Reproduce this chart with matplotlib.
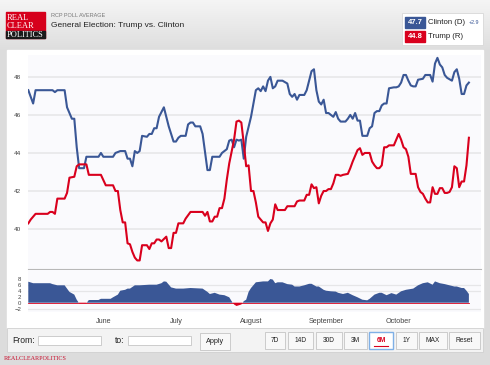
import numpy as np
import pandas as pd
import matplotlib
matplotlib.use("Agg")
import matplotlib.pyplot as plt
from matplotlib.patches import Rectangle

# 数据：自 2016-05-01 起的天数
start = pd.Timestamp("2016-05-01")

clinton_days = [0, 2, 3, 10, 11, 12, 15, 16, 18, 19, 20, 21, 23, 24, 29, 30, 31, 35, 36, 38,
                40, 41, 42, 43, 44, 45, 46, 47, 49, 50, 51, 52, 53, 54, 56, 58, 60, 61, 62, 63,
                65, 66, 67, 68, 69, 71, 72, 74, 75, 76, 79, 80, 82, 83, 84, 85, 86, 87, 88, 89,
                90, 92, 94, 95, 96, 97, 98, 99, 100, 101, 102, 103, 105, 107, 108, 109, 110, 111, 112, 114,
                115, 116, 117, 118, 119, 120, 121, 122, 123, 124, 125, 126, 127, 128, 129, 131, 132, 133, 134, 135,
                136, 137, 138, 140, 141, 142, 143, 144, 145, 146, 147, 148, 149, 151, 152, 153, 154, 155, 156, 157,
                158, 159, 160, 161, 163, 164, 166, 167, 168, 169, 170, 171, 172, 173, 175, 176, 177, 178, 179, 180,
                181, 182]
clinton = [47.3, 46.6, 47.3, 47.3, 47.2, 47.3, 47.3, 46.4, 45.8, 45.8, 44.3, 43.2, 43.2, 43.8, 43.8, 44.0, 43.8, 43.8, 44.0, 44.1,
           44.1, 43.7, 43.7, 43.3, 44.1, 44.0, 44.1, 44.9, 44.85, 45.0, 45.0, 45.3, 45.3, 45.9, 46.4, 45.4, 44.6, 44.6, 44.8, 44.9,
           44.9, 45.5, 45.6, 45.6, 45.4, 45.4, 45.0, 43.1, 43.1, 43.8, 43.8, 44.0, 44.2, 44.65, 44.7, 44.3, 44.7, 44.65, 44.7, 43.7,
           44.85, 45.9, 47.3, 47.4, 47.25, 47.5, 47.25, 47.8, 48.0, 47.4, 47.5, 47.8, 47.8, 47.65, 47.1, 46.95, 47.1, 46.8, 47.05, 47.05,
           47.3, 47.8, 48.3, 48.4, 47.3, 46.7, 46.55, 46.8, 46.1, 46.1, 46.0, 45.9, 46.15, 45.8, 45.65, 45.65, 45.8, 46.0, 45.8, 46.1,
           45.7, 45.7, 44.9, 44.9, 45.3, 45.4, 46.1, 46.2, 46.2, 46.5, 46.6, 46.6, 47.4, 47.45, 47.45, 47.5, 47.7, 48.1, 48.1, 47.8,
           47.55, 47.5, 47.5, 47.85, 47.9, 48.1, 48.1, 47.75, 48.7, 49.0, 48.65, 48.5, 48.1, 47.95, 47.8, 48.25, 48.4, 47.9, 47.1, 47.1,
           47.55, 47.7]

trump_days = [0, 1, 3, 8, 9, 10, 11, 12, 15, 16, 17, 19, 20, 21, 24, 25, 30, 32, 35, 36,
              37, 38, 39, 40, 41, 42, 43, 44, 45, 46, 47, 49, 50, 51, 52, 53, 54, 55, 57, 58,
              59, 60, 61, 62, 64, 65, 67, 72, 73, 74, 75, 76, 77, 78, 79, 80, 81, 82, 83, 85,
              86, 87, 88, 89, 90, 91, 92, 93, 94, 95, 96, 97, 98, 99, 100, 101, 102, 103, 106, 107,
              110, 111, 112, 114, 115, 116, 117, 118, 119, 120, 121, 122, 123, 124, 125, 126, 127, 128, 129, 130,
              132, 133, 134, 136, 137, 138, 139, 141, 142, 143, 144, 145, 146, 147, 148, 149, 151, 152, 153, 154,
              155, 156, 157, 158, 160, 161, 162, 163, 164, 165, 166, 167, 168, 169, 170, 171, 172, 173, 174, 175,
              176, 177, 178, 179, 180, 181, 182]
trump = [40.3, 40.5, 40.8, 40.8, 40.9, 40.9, 40.8, 41.6, 41.6, 41.9, 42.7, 42.75, 43.3, 43.4, 43.4, 42.85, 42.85, 42.3, 42.3, 42.0,
         42.0, 41.0, 40.35, 40.35, 39.25, 39.2, 38.8, 38.5, 38.35, 38.35, 39.15, 39.15, 38.95, 39.25, 39.25, 39.45, 39.45, 39.35, 39.6, 39.0,
         39.0, 39.8, 39.8, 40.3, 40.3, 40.55, 40.9, 40.9, 40.7, 40.9, 40.4, 40.4, 40.65, 40.65, 41.1, 41.1, 41.6, 42.6, 43.45, 44.7,
         45.65, 45.7, 45.6, 44.5, 43.3, 43.35, 42.0, 42.0, 41.4, 40.65, 40.5, 40.35, 40.35, 39.9, 40.3, 40.5, 41.3, 41.0, 41.0, 41.2,
         41.2, 41.45, 41.5, 41.5, 41.8, 41.8, 42.35, 42.15, 42.2, 41.35, 41.75, 42.0, 42.0, 42.1, 42.1, 42.4, 42.85, 42.85, 42.8, 42.85,
         42.9, 43.2, 43.55, 44.15, 44.25, 43.9, 44.0, 44.0, 43.55, 43.35, 43.2, 43.2, 43.35, 44.3, 44.3, 44.4, 44.4, 44.7, 45.0, 44.7,
         44.3, 44.2, 43.8, 42.9, 42.9, 42.2, 41.95, 41.85, 41.6, 41.4, 41.4, 42.2, 41.85, 41.85, 42.15, 42.15, 41.9, 41.9, 41.95, 42.2,
         43.3, 43.2, 42.2, 42.5, 42.5, 43.35, 44.8]

spread_days = [0, 2, 3, 9, 10, 12, 15, 16, 17, 19, 20, 21, 24, 25, 29, 30, 34, 35, 37, 38,
               40, 41, 42, 44, 46, 50, 53, 55, 56, 57, 59, 61, 64, 67, 72, 74, 75, 77, 79, 81,
               83, 84, 85, 86, 88, 89, 90, 91, 92, 94, 97, 99, 100, 101, 102, 103, 105, 107, 109, 110,
               112, 114, 116, 117, 119, 120, 122, 123, 125, 127, 128, 130, 132, 134, 136, 138, 140, 141, 143, 145,
               146, 148, 150, 152, 154, 156, 159, 161, 163, 165, 167, 168, 170, 172, 174, 176, 177, 179, 180, 181,
               182]
spread = [7.0, 6.5, 6.5, 6.5, 6.2, 5.8, 5.8, 4.7, 3.6, 2.7, 1.0, -0.2, -0.2, 0.9, 0.9, 1.3, 1.3, 1.8, 2.7, 4.0,
          4.3, 4.7, 4.7, 5.8, 5.8, 6.0, 6.0, 6.5, 7.1, 7.0, 5.1, 4.7, 4.7, 4.9, 4.7, 3.6, 2.9, 3.3, 2.7, 2.5,
          1.8, 0.5, -0.6, -1.1, -0.6, 0.5, 1.0, 3.6, 4.9, 6.8, 7.1, 7.1, 7.9, 7.7, 6.5, 6.8, 6.8, 6.2, 6.0, 5.4,
          5.4, 5.8, 6.3, 6.3, 5.4, 5.4, 4.3, 4.0, 3.8, 3.7, 3.3, 2.9, 3.3, 2.5, 1.8, 1.0, 0.8, 1.3, 2.7, 3.3,
          3.3, 2.5, 3.2, 2.7, 3.8, 4.3, 4.7, 5.8, 6.5, 6.8, 6.0, 7.1, 6.5, 6.2, 5.8, 5.4, 5.4, 4.9, 4.9, 4.0,
          2.9]

months = ["June", "July", "August", "September", "October"]
buttons = ["7D", "14D", "30D", "3M", "6M", "1Y", "MAX", "Reset"]

BLUE = "#3a5796"
RED = "#d9001d"
W, H = 490, 365


def to_dates(days):
    return start + pd.to_timedelta(days, unit="D")


def px_axes(fig, left, top, right, bottom):
    # 以像素坐标建立坐标轴
    return fig.add_axes([left / W, 1 - bottom / H, (right - left) / W, (bottom - top) / H])


def draw_chrome(bg):
    # 外框与页头渐变
    bg.add_patch(Rectangle((0, 0), W, H, color="#dcdcdc", zorder=0))
    grad = np.linspace(0.96, 0.87, 50).reshape(-1, 1)
    bg.imshow(np.dstack([grad, grad, grad]), extent=(0, W, 50, 0), aspect="auto", zorder=1)
    bg.add_patch(Rectangle((7, 50), 476, 278, color="white", zorder=2))
    bg.add_patch(Rectangle((7, 328), 476, 24, facecolor="#f3f3f3", edgecolor="#d0d0d0", lw=0.6, zorder=2))

    # 标志
    bg.add_patch(Rectangle((6, 12), 39, 26, color="#d6001c", zorder=3))
    bg.add_patch(Rectangle((6, 30.5), 39, 7.5, color="#1a1a1a", zorder=3))
    for txt, y in [("REAL", 20.2), ("CLEAR", 28.0), ("POLITICS", 36.6)]:
        bg.text(6.5, y, txt, color="white", fontsize=6.0, family="Liberation Serif",
                va="baseline", ha="left", zorder=4)

    bg.text(51, 15.5, "RCP POLL AVERAGE", fontsize=4, color="#777777", va="center", zorder=4)
    bg.text(51, 25.5, "General Election: Trump vs. Clinton", fontsize=6, color="#222222",
            va="center", zorder=4)

    # 图例框
    bg.add_patch(Rectangle((402, 13), 81, 32, facecolor="white", edgecolor="#d8d8d8", lw=0.6, zorder=3))
    bg.add_patch(Rectangle((405, 17), 20, 11, color=BLUE, zorder=4))
    bg.add_patch(Rectangle((405, 31), 20, 11, color=RED, zorder=4))
    bg.text(415, 22.7, f"{clinton[-1]:.1f}", color="white", fontsize=5.5, weight="bold",
            ha="center", va="center", zorder=5)
    bg.text(415, 36.7, f"{trump[-1]:.1f}", color="white", fontsize=5.5, weight="bold",
            ha="center", va="center", zorder=5)
    bg.text(428, 22.5, "Clinton (D)", fontsize=5.6, color="#222222", va="center", zorder=5)
    bg.text(428, 36.5, "Trump (R)", fontsize=5.6, color="#222222", va="center", zorder=5)
    bg.text(469, 23, f"+{clinton[-1] - trump[-1]:.1f}", fontsize=3.8, color=BLUE, va="center", zorder=5)

    # 底部按钮栏
    bg.text(12, 340.5, "From:", fontsize=6.2, color="#222222", va="center", zorder=4)
    bg.add_patch(Rectangle((38, 336), 63, 9, facecolor="white", edgecolor="#bbbbbb", lw=0.5, zorder=4))
    bg.text(115, 340.5, "to:", fontsize=6.2, color="#222222", va="center", zorder=4)
    bg.add_patch(Rectangle((128, 336), 63, 9, facecolor="white", edgecolor="#bbbbbb", lw=0.5, zorder=4))
    bg.add_patch(Rectangle((200, 333), 30, 17, facecolor="#f8f8f8", edgecolor="#bbbbbb", lw=0.5, zorder=4))
    bg.text(215, 341.5, "Apply", fontsize=5.2, color="#222222", ha="center", va="center", zorder=5)

    lefts = [265, 288, 316, 344, 369, 396, 419, 449]
    rights = [285, 313, 342, 367, 393, 417, 447, 480]
    for name, l, r in zip(buttons, lefts, rights):
        active = name == "6M"
        bg.add_patch(Rectangle((l, 332), r - l, 17, facecolor="white" if active else "#f8f8f8",
                               edgecolor="#7fb0e6" if active else "#bbbbbb",
                               lw=1.0 if active else 0.5, zorder=4))
        bg.text((l + r) / 2, 340.5, name, fontsize=4.8, color=RED if active else "#222222",
                ha="center", va="center", weight="bold" if active else "normal", zorder=5)
        if active:
            bg.plot([l + 5, r - 5], [345.5, 345.5], color=RED, lw=0.8, zorder=5)

    bg.text(4, 358.5, "REALCLEARPOLITICS", fontsize=4.4, color="#c8102e",
            family="Liberation Serif", va="center", zorder=4)


def main():
    plt.rcParams["font.family"] = ["Liberation Sans", "DejaVu Sans"]
    fig = plt.figure(figsize=(W / 100, H / 100), dpi=100)

    bg = fig.add_axes([0, 0, 1, 1])
    bg.set_xlim(0, W)
    bg.set_ylim(H, 0)
    bg.axis("off")
    draw_chrome(bg)

    xlim = (start - pd.Timedelta(hours=3), start + pd.Timedelta(days=187))

    # 主图
    ax = px_axes(fig, 28, 55, 481, 269)
    ax.set_facecolor("#fafafd")
    ax.plot(to_dates(clinton_days), clinton, color=BLUE, lw=1.5, zorder=3)
    ax.plot(to_dates(trump_days), trump, color=RED, lw=1.5, zorder=3)
    ax.set_xlim(*xlim)
    ax.set_ylim(37.9, 49.15)
    ax.set_yticks([40, 42, 44, 46, 48])
    ax.grid(axis="y", color="#e6e6e8", lw=1.1)
    ax.set_axisbelow(True)
    ax.set_xticks([])
    ax.tick_params(axis="y", length=0, pad=5, labelsize=4.6, labelcolor="#444444")
    for s in ["top", "right", "left"]:
        ax.spines[s].set_visible(False)
    ax.spines["bottom"].set_color("#b8b8b8")
    ax.spines["bottom"].set_linewidth(0.8)

    # 差值面积图
    ax2 = px_axes(fig, 28, 270, 481, 312)
    ax2.set_facecolor("#fafafd")
    sd = to_dates(spread_days)
    sv = np.array(spread)
    ax2.fill_between(sd, 0, sv, where=sv >= 0, interpolate=True, color=BLUE, lw=0, zorder=3)
    ax2.fill_between(sd, 0, sv, where=sv <= 0, interpolate=True, color=RED, lw=0, zorder=3)
    ax2.plot([sd[0], sd[-1]], [0, 0], color=RED, lw=0.6, zorder=4)
    ax2.set_xlim(*xlim)
    ax2.set_ylim(-3.1, 10.9)
    ax2.set_yticks([-2, 0, 2, 4, 6, 8])
    for g in [-2, 4, 6]:
        ax2.axhline(g, color="#e6e6e8", lw=0.9, zorder=1)
    ax2.tick_params(axis="y", length=0, pad=5, labelsize=4.3, labelcolor="#444444")
    ax2.set_xticks(to_dates([31, 61, 92, 123, 153]))
    ax2.set_xticklabels(months)
    ax2.tick_params(axis="x", length=0, pad=4, labelsize=5.2, labelcolor="#444444")
    for s in ax2.spines.values():
        s.set_visible(False)

    fig.savefig("out.png", dpi=100)


if __name__ == "__main__":
    main()
